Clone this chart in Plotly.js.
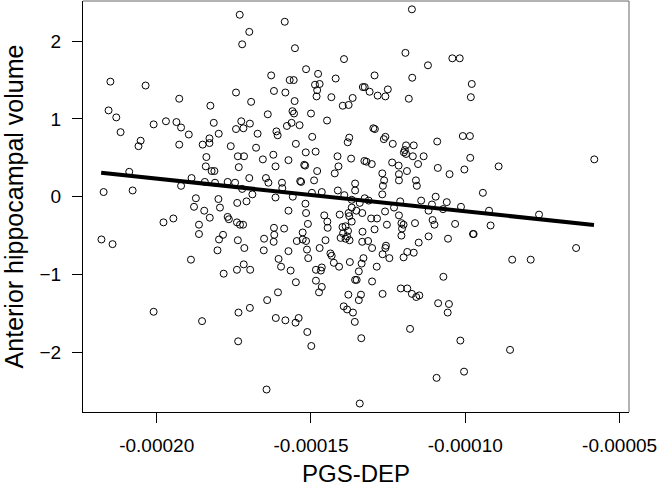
<!DOCTYPE html>
<html>
<head>
<meta charset="utf-8">
<script src="https://cdn.plot.ly/plotly-3.0.1.min.js"></script>
<style>html,body{margin:0;padding:0;background:#fff;}#chart{width:661px;height:490px;}</style>
</head>
<body>
<div id="chart"></div>
<script>
// PGS-DEP values in units of 1e-5
const pgsDepE5 = [
-21.50,-20.36,-19.27,-21.56,-21.31,-18.26,-20.10,-19.70,-19.36,-19.21,-18.15,-21.17,-18.96,-17.99,-20.52,-20.59,-19.27,-18.29,-18.29,-18.51,-18.39,-18.41,-18.22,-18.13,-20.89,-18.87,-18.44,-18.11,-21.72,-20.78,-19.21,-18.73,-18.00,
-18.79,-18.46,-17.95,-18.28,-19.78,-19.46,-18.63,-18.63,-21.79,-21.43,-17.98,-17.85,-18.03,-18.89,-17.83,-20.10,-18.53,
-17.31,-15.85,-17.00,-17.23,-15.52,-13.93,-15.16,-16.29,-14.77,-15.69,
-15.56,-14.20,-14.87,-14.72,-14.80,-14.82,-17.43,-16.20,-15.83,-13.32,
-14.34,-16.94,-15.53,-13.65,-13.97,-13.78,-16.40,-15.60,-15.55,-15.00,
-14.48,-17.26,-17.43,-17.19,-16.98,-15.63,-15.78,-15.37,-16.73,-16.12,
-16.08,-14.96,-13.76,-13.81,-17.60,-16.78,-15.49,-17.37,-17.17,-16.22,
-15.17,-14.85,-16.56,-15.73,-14.14,-13.70,-13.27,-17.34,-16.15,-15.22,
-15.19,-14.11,-14.80,-14.23,-17.00,-16.46,-15.35,-15.32,-14.90,-17.70,
-17.46,-16.38,-15.94,-13.57,-17.23,-15.93,-13.57,-16.90,-16.15,-15.59,
-14.65,-14.97,-14.13,-17.39,-17.09,-15.18,-13.68,-13.42,-13.92,
-11.73,-11.94,-10.42,-10.18,-11.21,-12.94,-11.72,-9.79,-9.82,-13.26,
-13.10,-12.84,-12.51,-12.59,-11.83,-12.98,-12.93,-12.59,-12.64,-12.35,
-11.92,-11.67,-10.91,-10.08,-9.85,-11.96,-11.99,-11.92,-11.70,-11.35,
-13.20,-13.03,-12.37,-12.16,-11.53,-10.89,-9.84,-8.92,-12.69,-12.15,
-11.89,-10.51,-10.03,-12.63,-12.15,-11.60,-12.67,-11.57,-12.69,-9.43,
-10.96,-11.43,-12.11,-11.08,-10.60,-13.26,-13.13,
-5.82,
-17.70,-17.66,-17.40,-17.30,-17.20,-15.73,-15.16,-14.57,-14.47,-14.46,
-15.10,-16.20,-15.87,-16.19,-16.21,-16.52,-16.53,-17.37,-17.16,-15.27,
-15.46,-15.27,-15.16,-14.53,-15.13,-14.72,-15.73,-16.05,-15.97,-15.66,
-15.09,-17.18,-17.40,-16.97,-14.84,-14.65,-14.68,-14.37,-14.33,-14.26,
-14.09,-14.07,-13.78,-13.76,-13.68,-13.53,-13.34,-13.68,-13.98,-13.88,
-13.80,-14.04,-13.96,-13.83,-13.75,-13.88,-13.74,-13.33,-13.30,-13.36,
-15.49,-14.84,-14.65,-14.74,-13.57,-13.52,-13.45,-13.79,-13.38,-13.45,
-16.07,-16.42,-16.98,-17.35,-16.14,-15.83,-15.50,-15.40,-13.94,-13.83,
-13.64,-13.58,-15.12,-14.99,-17.36,-13.37,-16.44,-13.42,-13.34,
-12.60,-12.31,-13.05,-12.86,-12.94,-12.54,-12.15,-12.07,-12.00,-12.05,
-12.07,-11.63,-11.19,-11.06,-11.00,-10.72,-10.14,-9.23,-10.33,-9.18,
-9.75,-9.73,-10.56,-11.19,-11.51,-13.15,-13.02,-12.57,-12.59,-12.68,
-12.46,-11.88,-11.67,-12.00,-12.87,-13.02,-12.68,-12.09,-11.88,-11.73,
-11.59,-11.49,-10.71,-10.88,-10.53,-10.57,-11.79,-10.16,-10.04,-10.93,
-7.61,-6.41,-8.48,-7.88,-8.55
];
// Anterior hippocampal volume
const hippoVol = [
1.48,1.43,1.26,1.11,1.02,1.17,0.93,0.97,0.96,0.89,0.95,0.83,0.80,0.81,0.72,0.65,0.67,0.75,0.69,0.67,0.51,0.39,0.33,0.33,0.32,0.24,0.19,0.18,0.06,0.08,0.14,-0.02,-0.03,
-0.13,-0.18,-0.14,-0.27,-0.33,-0.28,-0.36,-0.48,-0.55,-0.61,-0.55,-0.49,-0.69,-0.81,-0.99,-1.48,-1.60,
2.34,2.25,2.12,1.96,1.91,1.77,1.64,1.56,1.58,1.50,
1.50,1.52,1.44,1.45,1.37,1.29,1.34,1.36,1.34,1.41,
1.28,1.22,1.23,1.27,1.17,1.18,1.06,1.10,1.07,1.07,
0.98,0.97,0.87,0.88,0.94,0.95,0.91,0.92,0.81,0.84,
0.79,0.77,0.76,0.70,0.65,0.63,0.68,0.52,0.52,0.54,
0.57,0.58,0.48,0.47,0.52,0.49,0.46,0.38,0.39,0.41,
0.40,0.39,0.33,0.30,0.24,0.24,0.20,0.19,0.21,0.19,
0.18,0.18,0.18,0.17,0.10,0.11,0.08,0.03,-0.01,0.00,
0.06,0.05,0.08,-0.08,-0.06,-0.09,-0.04,-0.08,0.02,
2.41,1.85,1.78,1.78,1.69,1.56,1.53,1.45,1.28,1.41,
1.35,1.30,1.38,1.29,1.26,0.88,0.87,0.77,0.74,0.68,
0.66,0.66,0.71,0.78,0.78,0.60,0.57,0.55,0.52,0.52,
0.45,0.42,0.44,0.40,0.42,0.37,0.50,0.39,0.30,0.29,
0.33,0.29,0.35,0.21,0.21,0.21,0.14,0.14,0.03,0.05,
0.00,-0.05,-0.06,-0.10,-0.07,-0.02,-0.05,
0.48,
-0.26,-0.29,-0.33,-0.36,-0.36,-0.18,-0.21,-0.24,-0.32,-0.40,
-0.35,-0.40,-0.41,-0.49,-0.58,-0.54,-0.69,-0.56,-0.66,-0.46,
-0.57,-0.55,-0.57,-0.56,-0.68,-0.66,-0.70,-0.80,-0.90,-0.95,
-0.79,-0.87,-0.94,-0.94,-0.94,-0.91,-0.95,-0.73,-0.76,-0.85,
-0.90,-0.23,-0.21,-0.25,-0.14,-0.18,-0.21,-0.32,-0.39,-0.38,
-0.44,-0.53,-0.47,-0.51,-0.56,-0.54,-0.84,-0.45,-0.79,-0.86,
-1.10,-1.08,-1.16,-1.23,-1.07,-1.07,-0.96,-1.26,-1.26,-1.33,
-1.23,-1.33,-1.43,-1.49,-1.56,-1.59,-1.62,-1.56,-1.41,-1.45,
-1.49,-1.61,-1.74,-1.92,-1.86,-1.82,-2.48,-2.66,-0.58,
-0.19,-0.14,-0.28,-0.28,-0.42,-0.36,-0.24,-0.34,-0.36,-0.41,
-0.50,-0.34,-0.18,-0.30,-0.36,-0.16,-0.13,-0.18,-0.35,-0.37,
-0.48,-0.48,-0.54,-0.51,-0.59,-0.57,-0.66,-0.63,-0.66,-0.74,
-0.79,-0.71,-0.72,-0.78,-0.90,-1.09,-1.25,-1.18,-1.18,-1.25,
-1.29,-1.27,-1.03,-1.37,-1.38,-1.49,-1.70,-1.85,-2.25,-2.33,
-0.23,-0.66,-0.81,-0.81,-1.97
];
// Fitted regression line endpoints
const fitXE5 = [-21.80, -5.83];
const fitY = [0.309, -0.364];
const xTickVals = [-0.00020, -0.00015, -0.00010, -0.00005];
const xTickText = ['-0.00020', '-0.00015', '-0.00010', '-0.00005'];
const yTickVals = [-2, -1, 0, 1, 2];

const E5 = 1e-5;
const font = 'Liberation Sans, Arial, sans-serif';

const traces = [
  {
    type: 'scatter', mode: 'markers',
    x: pgsDepE5.map(v => v * E5), y: hippoVol,
    marker: {symbol: 'circle-open', size: 7, color: '#000', line: {width: 1, color: '#000'}},
    hoverinfo: 'skip', showlegend: false
  },
  {
    type: 'scatter', mode: 'lines',
    x: fitXE5.map(v => v * E5), y: fitY,
    line: {color: '#000', width: 4},
    hoverinfo: 'skip', showlegend: false
  }
];

const layout = {
  width: 661, height: 490,
  margin: {l: 83, r: 32, t: 1, b: 78},
  paper_bgcolor: '#fff', plot_bgcolor: '#fff',
  font: {family: font, color: '#000'},
  showlegend: false,
  xaxis: {
    range: [-2.2388e-4, -4.695e-5],
    tickvals: xTickVals, ticktext: xTickText,
    showgrid: false, zeroline: false,
    showline: true, linecolor: '#000', linewidth: 1,
    ticks: 'outside', ticklen: 10, tickcolor: '#000', tickwidth: 1,
    ticklabelstandoff: 6,
    tickfont: {family: font, size: 19, color: '#000'},
    title: {text: 'PGS-DEP', font: {family: font, size: 24, color: '#000'}, standoff: 10}
  },
  yaxis: {
    range: [-2.769, 2.517],
    tickvals: yTickVals,
    showgrid: false, zeroline: false,
    showline: true, linecolor: '#000', linewidth: 1,
    ticks: 'outside', ticklen: 10, tickcolor: '#000', tickwidth: 1,
    ticklabelstandoff: 7,
    tickfont: {family: font, size: 19, color: '#000'},
    title: {text: 'Anterior hippocampal volume', font: {family: font, size: 25, color: '#000'}, standoff: 14}
  },
  shapes: [
    {type: 'line', xref: 'paper', yref: 'paper', x0: 0, x1: 1, y0: 1, y1: 1, line: {color: '#666', width: 1}},
    {type: 'line', xref: 'paper', yref: 'paper', x0: 1, x1: 1, y0: 0, y1: 1, line: {color: '#666', width: 1}}
  ]
};

Plotly.newPlot('chart', traces, layout, {displayModeBar: false, staticPlot: true});
</script>
</body>
</html>
